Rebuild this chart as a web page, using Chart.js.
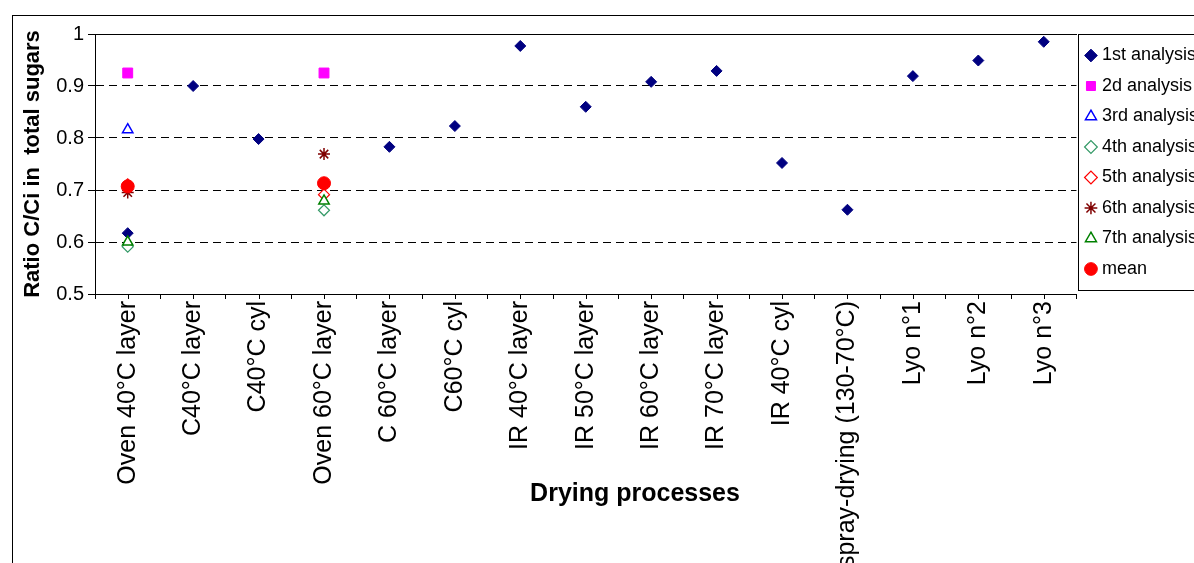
<!DOCTYPE html>
<html>
<head>
<meta charset="utf-8">
<script src="https://cdn.jsdelivr.net/npm/chart.js@4.4.1/dist/chart.umd.min.js"></script>
<style>
  body { margin: 0; background: #fff; overflow: hidden; }
  #frame { position: absolute; left: 12px; top: 15px; width: 1300px; height: 700px; border: 1px solid #000; }
  #summary { position: absolute; left: 0; top: 0; }
</style>
</head>
<body>
<div id="frame"></div>
<canvas id="summary" width="1208" height="563"></canvas>
<script>
const categories = ["Oven 40°C layer", "C40°C layer", "C40°C cyl", "Oven 60°C layer", "C 60°C layer",
  "C60°C cyl", "IR 40°C layer", "IR 50°C layer", "IR 60°C layer", "IR 70°C layer", "IR 40°C cyl",
  "spray-drying (130-70°C)", "Lyo n°1", "Lyo n°2", "Lyo n°3"]

const seriesNames = ["1st analysis", "2d analysis", "3rd analysis", "4th analysis",
  "5th analysis", "6th analysis", "7th analysis", "mean"]

const first   = [0.617, 0.900, 0.798, null, 0.783, 0.823, 0.977, 0.860, 0.908, 0.929, 0.752, 0.662, 0.919, 0.949, 0.985]
const second  = [0.925, null, null, 0.925, null, null, null, null, null, null, null, null, null, null, null]
const third   = [0.816, null, null, null, null, null, null, null, null, null, null, null, null, null, null]
const fourth  = [0.591, null, null, 0.661, null, null, null, null, null, null, null, null, null, null, null]
const fifth   = [0.711, null, null, 0.691, null, null, null, null, null, null, null, null, null, null, null]
const sixth   = [0.695, null, null, 0.769, null, null, null, null, null, null, null, null, null, null, null]
const seventh = [0.600, null, null, 0.679, null, null, null, null, null, null, null, null, null, null, null]
const mean    = [0.707, null, null, 0.713, null, null, null, null, null, null, null, null, null, null, null]

const yMin = 0.5
const yMax = 1
const yStep = 0.1

const seriesValues = [first, second, third, fourth, fifth, sixth, seventh, mean]

// marker look, Excel style
const markers = [
  { pointStyle: 'rectRot', backgroundColor: '#000080', borderColor: '#000080', radius: 5.5, borderWidth: 1 },
  { pointStyle: 'rect', backgroundColor: '#FF00FF', borderColor: '#FF00FF', radius: 7, borderWidth: 1 },
  { pointStyle: 'triangle', backgroundColor: '#fff', borderColor: '#0000FF', radius: 6, borderWidth: 1.5 },
  { pointStyle: 'rectRot', backgroundColor: '#fff', borderColor: '#339966', radius: 5.5, borderWidth: 1.2 },
  { pointStyle: 'rectRot', backgroundColor: '#fff', borderColor: '#FF0000', radius: 5.5, borderWidth: 1.2 },
  { pointStyle: 'star', backgroundColor: '#800000', borderColor: '#800000', radius: 6, borderWidth: 1.5 },
  { pointStyle: 'triangle', backgroundColor: '#fff', borderColor: '#008000', radius: 6, borderWidth: 1.5 },
  { pointStyle: 'circle', backgroundColor: '#FF0000', borderColor: '#FF0000', radius: 6.5, borderWidth: 1 },
]

const font = 'Liberation Sans, Arial, sans-serif'
Chart.defaults.font.family = font
Chart.defaults.color = '#000'

let datasets = seriesValues.map((vals, i) => ({
  label: seriesNames[i],
  data: vals,
  showLine: false,
  pointStyle: markers[i].pointStyle,
  backgroundColor: markers[i].backgroundColor,
  borderColor: markers[i].borderColor,
  borderWidth: markers[i].borderWidth,
  pointRadius: markers[i].radius,
  pointHoverRadius: markers[i].radius,
  order: seriesValues.length - i,   // later series drawn on top
  clip: false,
}))

// ticks both at category centres and between them
const centerTicks = {
  id: 'centerTicks',
  afterDraw(chart) {
    const ctx = chart.ctx
    const xs = chart.scales.x
    const bottom = chart.chartArea.bottom
    ctx.save()
    ctx.strokeStyle = '#000'
    ctx.lineWidth = 1
    ctx.beginPath()
    xs.ticks.forEach((t, i) => {
      const px = Math.round(xs.getPixelForTick(i)) + 0.5
      ctx.moveTo(px, bottom)
      ctx.lineTo(px, bottom + 5)
    })
    ctx.stroke()
    ctx.restore()
  }
}

const legendBox = {
  id: 'legendBox',
  afterDraw(chart) {
    const lg = chart.legend
    const ctx = chart.ctx
    ctx.save()
    ctx.strokeStyle = '#000'
    ctx.lineWidth = 1
    ctx.strokeRect(Math.round(lg.left) + 2.5, Math.round(lg.top) + 0.5, lg.width + 40, lg.height - 4)
    ctx.restore()
  }
}

const xTitle = {
  id: 'xTitle',
  afterDraw(chart) {
    const ctx = chart.ctx
    ctx.save()
    ctx.font = 'bold 25px ' + font
    ctx.fillStyle = '#000'
    ctx.textAlign = 'center'
    ctx.textBaseline = 'middle'
    ctx.fillText('Drying processes', 635, 494)
    ctx.restore()
  }
}

let summaryChart = new Chart(document.getElementById('summary'), {
  type: 'line',
  data: { labels: categories, datasets: datasets },
  options: {
    responsive: false,
    animation: false,
    devicePixelRatio: 1,
    events: [],
    layout: { padding: { left: 12, top: 34, right: 0, bottom: 0 } },
    scales: {
      x: {
        offset: true,
        grid: { display: true, drawOnChartArea: false, offset: true, tickLength: 5, tickColor: '#000' },
        border: { display: true, color: '#000', width: 1 },
        ticks: { autoSkip: false, minRotation: 90, maxRotation: 90, padding: 2, font: { size: 25 } },
        afterFit: (scale) => { scale.height = 563 - 294 }
      },
      xTop: {
        type: 'category',
        position: 'top',
        grid: { display: false, drawTicks: false },
        ticks: { display: false },
        border: { display: true, color: '#000', width: 1 },
      },
      y: {
        min: yMin,
        max: yMax,
        ticks: {
          stepSize: yStep,
          padding: 4,
          font: { size: 20 },
          callback: (v) => String(+v.toFixed(1))
        },
        grid: {
          color: (c) => (c.tick && c.tick.value > yMin + 0.05 && c.tick.value < yMax - 0.05) ? '#000' : 'rgba(0,0,0,0)',
          tickColor: '#000',
          tickLength: 7,
          lineWidth: 1,
        },
        border: { display: true, color: '#000', width: 1, dash: [8, 5] },
        title: {
          display: true,
          text: 'Ratio C/Ci in  total sugars',
          font: { size: 22, weight: 'bold' },
          padding: { top: 8, bottom: 0 },
        },
        afterFit: (scale) => { scale.width = 95 - 12 }
      }
    },
    plugins: {
      legend: {
        position: 'right',
        fullSize: false,
        align: 'start',
        reverse: true,
        labels: {
          usePointStyle: true,
          boxWidth: 4,
          boxHeight: 9,
          padding: 12.5,
          color: '#000',
          font: { size: 18 },
        }
      },
      tooltip: { enabled: false },
    }
  },
  plugins: [centerTicks, legendBox, xTitle]
});
</script>
</body>
</html>
